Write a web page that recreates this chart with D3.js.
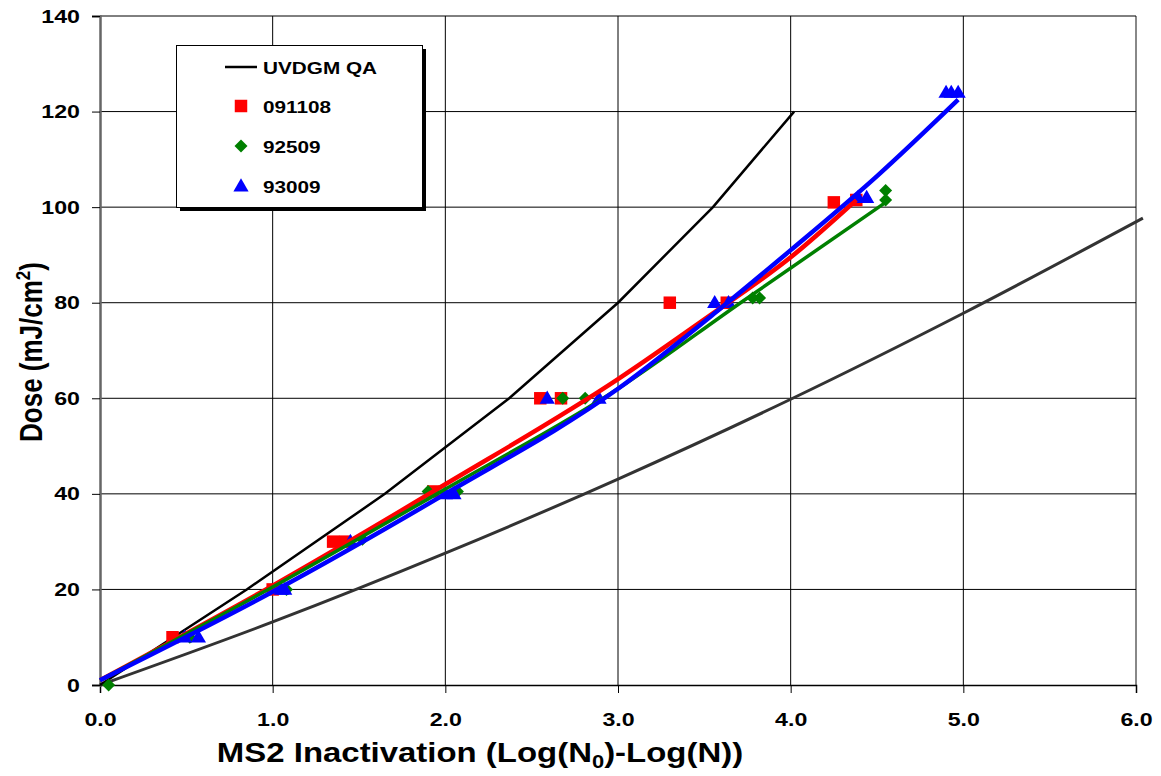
<!DOCTYPE html>
<html><head><meta charset="utf-8">
<script src="https://cdn.jsdelivr.net/npm/d3@7"></script>
<style>
body{margin:0;background:#fff;}
text{font-family:"Liberation Sans",Arial,sans-serif;font-weight:bold;}
</style></head>
<body><svg id="c" width="1161" height="776"></svg>
<script>
// ---- data ----
const xTicks = [0,1,2,3,4,5,6];
const yTicks = [0,20,40,60,80,100,120,140];
const seriesNames = ["UVDGM QA","091108","92509","93009"];
// UVDGM QA reference curve (x = log inactivation, y = dose)
const qaX = [0,0.85,1.65,2.37,3.0,3.55,4.02];
const qaY = [0,20,40,60,80,100,120];
// dark gray line
const grayX = [0,1,2,3,4,5,6.04];
const grayY = [0,13.2,27.6,43.1,59.8,77.8,97.7];
// 091108 points
const redX = [0.42,1.0,1.35,1.42,1.93,2.55,2.67,3.3,3.63,4.25,4.38];
const redY = [10,20,30,30,40.5,60,60,80,80,101,101.5];
// 92509 points
const greenX = [0.05,0.52,1.08,1.52,1.9,2.07,2.68,2.81,3.78,3.82,4.55,4.55];
const greenY = [0,10,20,30.5,40.5,40.5,60,60,81,81,103.5,101.5];
// 93009 points
const blueX = [0.49,0.57,1.05,1.07,1.45,2.0,2.05,2.59,2.89,3.56,3.64,4.39,4.44,4.9,4.93,4.97];
const blueY = [10,10,20,20,30,40,40,60,60,80,80,102,102,124,124,124];
// fitted curves
const redFitX = [0,1,2,3,3.5,4,4.38];
const redFitY = [1,20.8,42,64,76.5,89.5,101.5];
const greenFitX = [0,1,2,3,3.71,4.55];
const greenFitY = [1,20.5,41,62,80,101];
const blueFitX = [0,1,2,3,3.6,4,4.5,4.97];
const blueFitY = [1,19.5,40,62,79,91,106.5,122.5];

const zip = (xs,ys)=>xs.map((x,i)=>[x,ys[i]]);
const SX = 1.22; // horizontal text stretch seen in the reference

const svg = d3.select("#c");
const L=100,R=1136,T=16,B=685;
const x = d3.scaleLinear().domain([0,6]).range([L,R]);
const y = d3.scaleLinear().domain([0,140]).range([B,T]);

// gridlines
svg.append("g").selectAll("line").data(xTicks.filter(d=>d>0)).join("line")
  .attr("x1",d=>x(d)).attr("x2",d=>x(d)).attr("y1",T).attr("y2",B)
  .attr("stroke",d=>d===6?"#888":"#000").attr("stroke-width",d=>d===6?2:1);
svg.append("g").selectAll("line").data(yTicks.filter(d=>d>0)).join("line")
  .attr("x1",L).attr("x2",R).attr("y1",d=>y(d)).attr("y2",d=>y(d))
  .attr("stroke","#000").attr("stroke-width",1);

// axes
const xAxis = svg.append("g").attr("transform",`translate(0,${B})`)
  .call(d3.axisBottom(x).tickValues(xTicks).tickFormat(d3.format(".1f")).tickSize(8).tickPadding(20));
const yAxis = svg.append("g").attr("transform",`translate(${L},0)`)
  .call(d3.axisLeft(y).tickValues(yTicks).tickSize(8).tickPadding(14));
[xAxis,yAxis].forEach(a=>{
  a.select(".domain").attr("stroke","#000").attr("stroke-width",1.5);
  a.selectAll(".tick line").attr("stroke","#000");
  a.selectAll("text").attr("font-size",19).attr("fill","#000")
   .style("font-family","'Liberation Sans',Arial,sans-serif").style("font-weight","bold")
   .attr("transform",`scale(${SX},1)`);
});
yAxis.selectAll("text").attr("x",-20/SX);
yAxis.select(".domain").attr("stroke","#666").attr("stroke-width",2.5);

const line = d3.line().x(d=>x(d[0])).y(d=>y(d[1]));
const sline = d3.line().x(d=>x(d[0])).y(d=>y(d[1])).curve(d3.curveMonotoneX);

// reference lines
svg.append("path").datum(zip(grayX,grayY)).attr("d",sline)
  .attr("fill","none").attr("stroke","#333").attr("stroke-width",3);
svg.append("path").datum(zip(qaX,qaY)).attr("d",line)
  .attr("fill","none").attr("stroke","#000").attr("stroke-width",2.5);

// markers
const sq = d3.symbol().type(d3.symbolSquare).size(156);
const dia = "M0,-6.5L6.5,0L0,6.5L-6.5,0Z";
const tri = d3.symbol().type(d3.symbolTriangle).size(100);
svg.append("g").selectAll("path").data(zip(redX,redY)).join("path")
  .attr("d",sq).attr("transform",d=>`translate(${x(d[0])},${y(d[1])})`).attr("fill","#ff0000");
svg.append("g").selectAll("path").data(zip(greenX,greenY)).join("path")
  .attr("d",dia).attr("transform",d=>`translate(${x(d[0])},${y(d[1])})`).attr("fill","#008000");
svg.append("g").selectAll("path").data(zip(blueX,blueY)).join("path")
  .attr("d",tri).attr("transform",d=>`translate(${x(d[0])},${y(d[1])+1})`).attr("fill","#0000ff");

// fits
svg.append("path").datum(zip(redFitX,redFitY)).attr("d",sline)
  .attr("fill","none").attr("stroke","#ff0000").attr("stroke-width",4.5);
svg.append("path").datum(zip(greenFitX,greenFitY)).attr("d",sline)
  .attr("fill","none").attr("stroke","#008000").attr("stroke-width",3.5);
svg.append("path").datum(zip(blueFitX,blueFitY)).attr("d",sline)
  .attr("fill","none").attr("stroke","#0000ff").attr("stroke-width",4.5);

// axis titles
svg.append("g").attr("transform",`translate(480,762) scale(${SX},1)`)
  .append("text").attr("text-anchor","middle").attr("font-size",27)
  .html('MS2 Inactivation (Log(N<tspan font-size="18" dy="6">0</tspan><tspan dy="-6">)-Log(N))</tspan>');
svg.append("g").attr("transform",`translate(42,352) scale(${SX},1) rotate(-90)`)
  .append("text").attr("text-anchor","middle").attr("font-size",26)
  .html('Dose (mJ/cm<tspan font-size="17" dy="-10">2</tspan><tspan dy="10">)</tspan>');

// legend
const lg = svg.append("g");
lg.append("rect").attr("x",180).attr("y",49).attr("width",246).attr("height",162).attr("fill","#000");
lg.append("rect").attr("x",176.5).attr("y",45.5).attr("width",246).attr("height",162)
  .attr("fill","#fff").attr("stroke","#000").attr("stroke-width",1);
const ly = [67,106,146,186];
lg.append("line").attr("x1",225).attr("x2",257).attr("y1",ly[0]).attr("y2",ly[0])
  .attr("stroke","#000").attr("stroke-width",2.5);
lg.append("path").attr("d",sq).attr("transform",`translate(241,${ly[1]})`).attr("fill","#ff0000");
lg.append("path").attr("d",dia).attr("transform",`translate(241,${ly[2]})`).attr("fill","#008000");
lg.append("path").attr("d",tri).attr("transform",`translate(241,${ly[3]+1})`).attr("fill","#0000ff");
lg.selectAll("g.lt").data(seriesNames).join("g").attr("class","lt")
  .attr("transform",(d,i)=>`translate(263,${ly[i]+7}) scale(${SX},1)`)
  .append("text").attr("font-size",17).attr("fill","#000").text(d=>d);
</script></body></html>
